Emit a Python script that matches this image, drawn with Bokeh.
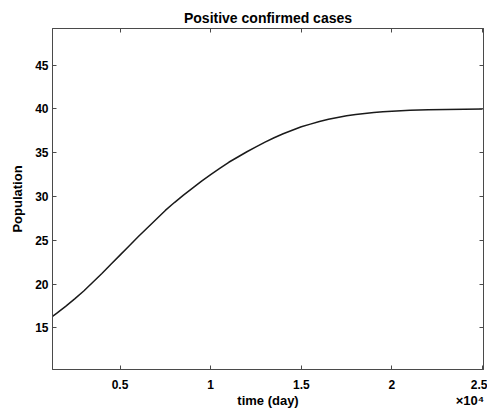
from bokeh.plotting import figure
from bokeh.models import LinearAxis, Range1d, FixedTicker
from bokeh.embed import file_html
from bokeh.resources import INLINE

# data
time_day = [1276, 1500, 2000, 2500, 3000, 3500, 4000, 4500, 5000, 5500,
            6000, 6500, 7000, 7500, 8000, 8500, 9000, 9500, 10000, 10500,
            11000, 11500, 12000, 12500, 13000, 13500, 14000, 14500, 15000,
            15500, 16000, 16500, 17000, 17500, 18000, 18500, 19000, 19500,
            20000, 21000, 22000, 23000, 24000, 25000]
population = [16.3, 16.65, 17.45, 18.3, 19.2, 20.2, 21.2, 22.25, 23.3, 24.35,
              25.4, 26.4, 27.4, 28.4, 29.3, 30.15, 30.95, 31.75, 32.5, 33.2,
              33.9, 34.5, 35.1, 35.65, 36.2, 36.7, 37.15, 37.55, 37.95,
              38.25, 38.55, 38.8, 39.0, 39.2, 39.35, 39.47, 39.57, 39.66,
              39.73, 39.83, 39.89, 39.93, 39.96, 39.98]
x_ticks = [5000, 10000, 15000, 20000, 25000]
x_tick_labels = {5000: "0.5", 10000: "1", 15000: "1.5", 20000: "2", 25000: "2.5"}
y_ticks = [15, 20, 25, 30, 35, 40, 45]
x_label = "time (day)"
x_exponent = "\u00d710\u2074"

FONT = "Liberation Sans"
AX = "#4a4a4a"
X0, X1 = 1276, 25050

p = figure(width=487, height=414, output_backend="svg", toolbar_location=None,
           x_range=Range1d(X0, X1), y_range=Range1d(10.24, 49.17),
           min_border_left=52, min_border_right=4, min_border_top=28, min_border_bottom=45,
           x_axis_location=None, y_axis_location=None)
p.title.text = "Positive confirmed cases"
p.title.align = "center"
p.title.text_font = FONT
p.title.text_font_size = "14px"
p.title.text_font_style = "bold"
p.title.text_color = "black"
p.title.offset = 0
p.title.standoff = 6

p.grid.visible = False
p.outline_line_color = AX
p.outline_line_width = 1
p.background_fill_color = "white"
p.border_fill_color = "white"

def style(ax, labels=True):
    ax.axis_line_color = AX
    ax.axis_line_width = 1
    ax.major_tick_line_color = AX
    ax.major_tick_in = 4
    ax.major_tick_out = 0
    ax.minor_tick_line_color = None
    ax.major_label_text_font = FONT
    ax.major_label_text_font_size = "12px"
    ax.major_label_text_font_style = "bold"
    ax.major_label_text_color = "black"
    ax.axis_label_text_font = FONT
    ax.axis_label_text_font_size = "13px"
    ax.axis_label_text_font_style = "bold"
    ax.axis_label_text_color = "black"
    if not labels:
        ax.major_label_text_font_size = "0px"
        ax.major_label_text_alpha = 0

xb = LinearAxis(ticker=FixedTicker(ticks=x_ticks))
xb.major_label_overrides = {k: v for k, v in x_tick_labels.items()}
style(xb)
xb.major_label_standoff = 10
p.add_layout(xb, "below")

# second row below the axis: the axis title and the x10^4 exponent note
label_center = (X0 + X1) / 2
exp_pos = 24300
xb2 = LinearAxis(ticker=FixedTicker(ticks=[label_center, exp_pos]))
xb2.major_label_overrides = {label_center: x_label, exp_pos: x_exponent}
style(xb2)
xb2.axis_line_color = None
xb2.major_tick_line_color = None
xb2.major_tick_in = 0
xb2.major_label_text_font_size = "13px"
xb2.major_label_standoff = 1
p.add_layout(xb2, "below")

yl = LinearAxis(ticker=FixedTicker(ticks=y_ticks), axis_label="Population")
style(yl)
yl.major_label_standoff = 4
yl.axis_label_standoff = 7
p.add_layout(yl, "left")

xt = LinearAxis(ticker=FixedTicker(ticks=x_ticks))
style(xt, labels=False)
p.add_layout(xt, "above")

yr = LinearAxis(ticker=FixedTicker(ticks=y_ticks))
style(yr, labels=False)
p.add_layout(yr, "right")

p.line(time_day, population, line_color="#1a1a1a", line_width=1.5)

open("out.html", "w").write(file_html(p, INLINE))
